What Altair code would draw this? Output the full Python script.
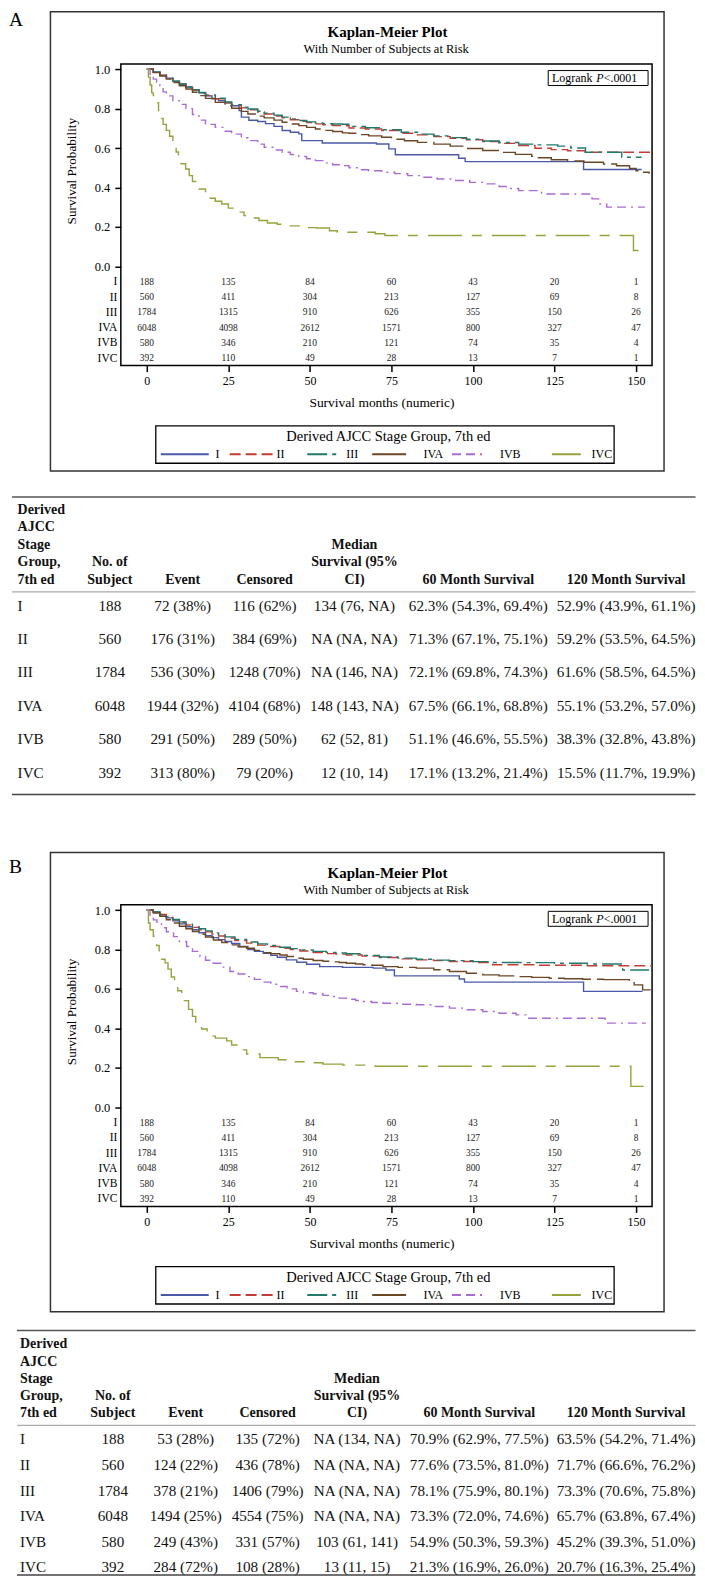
import altair as alt
import pandas as pd

FONT = "Liberation Serif"

# ---------------- data ----------------
stages = ["I", "II", "III", "IVA", "IVB", "IVC"]
risk_months = [0, 25, 50, 75, 100, 125, 150]
risk_I = [188, 135, 84, 60, 43, 20, 1]
risk_II = [560, 411, 304, 213, 127, 69, 8]
risk_III = [1784, 1315, 910, 626, 355, 150, 26]
risk_IVA = [6048, 4098, 2612, 1571, 800, 327, 47]
risk_IVB = [580, 346, 210, 121, 74, 35, 4]
risk_IVC = [392, 110, 49, 28, 13, 7, 1]
risk_all = [risk_I, risk_II, risk_III, risk_IVA, risk_IVB, risk_IVC]

# Panel A survival curves (month, survival)
kmA_I = [(0, 1.0), (2, 0.985), (4, 0.97), (6, 0.955), (8, 0.94), (10, 0.925), (12, 0.91), (14, 0.895),
         (16, 0.88), (18, 0.865), (20, 0.85), (22, 0.84), (24, 0.83), (26, 0.815), (28.3, 0.79), (29, 0.757),
         (31.3, 0.741), (34, 0.735), (36.4, 0.724), (39, 0.71), (41.5, 0.689), (44, 0.68), (46.6, 0.672),
         (47.5, 0.638), (53.8, 0.626), (70.4, 0.621), (74.2, 0.596), (76.2, 0.566), (95.6, 0.548),
         (97.6, 0.531), (133.9, 0.491), (151.7, 0.491)]
kmA_II = [(0, 1.0), (2, 0.985), (4, 0.968), (6, 0.952), (8, 0.937), (10, 0.922), (12, 0.907), (14, 0.893),
          (16, 0.879), (18, 0.866), (21, 0.85), (24, 0.83), (26, 0.816), (29, 0.804), (31, 0.794), (34, 0.783),
          (36, 0.773), (39, 0.763), (41.5, 0.753), (44, 0.744), (46.6, 0.736), (49, 0.729), (51.7, 0.723),
          (54, 0.718), (57, 0.714), (60, 0.713), (62, 0.702), (67, 0.697), (72, 0.689), (78, 0.675),
          (83, 0.667), (88, 0.658), (93, 0.65), (98, 0.642), (103, 0.633), (108, 0.624), (114, 0.613),
          (119, 0.599), (124, 0.592), (129, 0.586), (134.4, 0.579), (155, 0.579)]
kmA_III = [(0, 1.0), (2, 0.986), (4, 0.97), (6, 0.955), (8, 0.94), (10, 0.925), (12, 0.91), (14, 0.896),
           (16, 0.882), (18, 0.869), (21, 0.853), (24, 0.834), (26, 0.82), (29, 0.808), (31, 0.798), (34, 0.787),
           (36, 0.777), (39, 0.767), (41.5, 0.757), (44, 0.748), (46.6, 0.74), (49, 0.733), (51.7, 0.727),
           (54, 0.724), (57, 0.722), (60, 0.721), (63, 0.71), (67, 0.703), (72, 0.693), (78, 0.68), (83, 0.671),
           (88, 0.662), (93, 0.653), (98, 0.645), (103, 0.636), (108, 0.628), (114, 0.62), (120, 0.616),
           (126, 0.61), (130, 0.6), (134.5, 0.579), (145.6, 0.553), (151.7, 0.553)]
kmA_IVA = [(0, 1.0), (2, 0.983), (4, 0.966), (6, 0.95), (8, 0.933), (10, 0.916), (12, 0.9), (14, 0.883),
           (16, 0.866), (18, 0.852), (21, 0.832), (24, 0.815), (26, 0.802), (29, 0.786), (31, 0.773), (34, 0.762),
           (36, 0.753), (39, 0.742), (41.5, 0.731), (44, 0.722), (46.6, 0.714), (49, 0.705), (51.7, 0.697),
           (54, 0.69), (57, 0.684), (60, 0.677), (62, 0.675), (65, 0.668), (68, 0.662), (72, 0.655), (75, 0.645),
           (79, 0.637), (83, 0.629), (88, 0.62), (93, 0.61), (98, 0.598), (103, 0.588), (108, 0.578),
           (113, 0.568), (118, 0.558), (120, 0.551), (124, 0.541), (129, 0.534), (134, 0.528), (140, 0.519),
           (144, 0.51), (148, 0.497), (150, 0.485), (152, 0.477), (154, 0.47)]
kmA_IVB = [(0, 1.0), (1, 0.97), (2, 0.95), (3, 0.935), (4, 0.91), (5, 0.885), (6, 0.865), (8, 0.84),
           (10, 0.822), (12, 0.8), (14, 0.77), (16, 0.742), (18, 0.72), (21, 0.705), (24, 0.685), (26, 0.671),
           (29, 0.652), (31, 0.638), (34, 0.62), (36, 0.604), (39, 0.59), (41.5, 0.579), (44, 0.567),
           (46.6, 0.557), (49, 0.546), (51.7, 0.536), (54, 0.525), (57, 0.515), (60, 0.511), (62, 0.5),
           (65, 0.49), (68, 0.485), (72, 0.477), (76, 0.47), (80, 0.46), (84, 0.452), (89, 0.443), (94, 0.435),
           (99, 0.426), (104, 0.418), (108, 0.405), (111, 0.395), (114, 0.384), (121, 0.367), (136.5, 0.342),
           (138.5, 0.316), (141, 0.3), (152.7, 0.3)]
kmA_IVC = [(0, 1.0), (0.5, 0.96), (1, 0.92), (1.5, 0.88), (2, 0.866), (3, 0.83), (3.6, 0.79), (4.5, 0.75),
           (5, 0.72), (6, 0.69), (7, 0.66), (8, 0.63), (9, 0.58), (9.7, 0.545), (10.5, 0.52), (11.9, 0.494),
           (13, 0.46), (14, 0.43), (15, 0.41), (16, 0.392), (18, 0.36), (19.5, 0.345), (21, 0.33), (23, 0.316),
           (25, 0.295), (27, 0.275), (29.8, 0.257), (32, 0.245), (34.4, 0.232), (37, 0.22), (40, 0.213),
           (44, 0.205), (47.6, 0.196), (52, 0.194), (56, 0.18), (58.4, 0.173), (70, 0.165), (73, 0.156),
           (149.2, 0.08), (152.6, 0.08)]

# Panel B survival curves
kmB_I = [(0, 1.0), (2, 0.99), (4, 0.975), (6, 0.96), (8, 0.945), (10, 0.93), (12, 0.915), (14, 0.9),
         (16, 0.885), (18, 0.87), (20, 0.86), (22, 0.85), (24, 0.84), (26, 0.83), (28.5, 0.815), (31, 0.8),
         (33, 0.79), (35.7, 0.781), (38, 0.77), (40, 0.76), (42.8, 0.747), (46, 0.735), (49, 0.725),
         (53, 0.713), (60, 0.709), (69.4, 0.705), (73.3, 0.696), (75.9, 0.666), (95.8, 0.65), (97.4, 0.634),
         (133.9, 0.587), (152, 0.587)]
kmB_II = [(0, 1.0), (2, 0.99), (4, 0.977), (6, 0.963), (8, 0.95), (10, 0.937), (12, 0.924), (14, 0.912),
          (16, 0.9), (18, 0.889), (20, 0.878), (22, 0.868), (24, 0.858), (27, 0.845), (30.6, 0.832), (34, 0.822),
          (37, 0.815), (40.8, 0.806), (44, 0.799), (47, 0.792), (51, 0.784), (55, 0.779), (58, 0.776),
          (61.2, 0.772), (66, 0.766), (71.3, 0.759), (77, 0.752), (82.6, 0.747), (88, 0.743), (92.8, 0.739),
          (100, 0.734), (106, 0.722), (120, 0.72), (135, 0.717), (155, 0.717)]
kmB_III = [(0, 1.0), (2, 0.99), (4, 0.978), (6, 0.965), (8, 0.952), (10, 0.94), (12, 0.928), (14, 0.916),
           (16, 0.905), (18, 0.894), (20, 0.884), (22, 0.874), (24, 0.864), (27, 0.851), (30.6, 0.838),
           (34, 0.828), (37, 0.82), (40.8, 0.811), (44, 0.804), (47, 0.797), (51, 0.79), (55, 0.785),
           (58, 0.782), (61.2, 0.778), (66, 0.77), (71.3, 0.762), (77, 0.756), (82.6, 0.75), (88, 0.746),
           (92.8, 0.743), (100, 0.738), (106, 0.734), (115, 0.733), (125, 0.73), (135, 0.726), (145.9, 0.696),
           (154, 0.696)]
kmB_IVA = [(0, 1.0), (2, 0.985), (4, 0.968), (6, 0.951), (8, 0.934), (10, 0.918), (12, 0.905), (14, 0.891),
           (16, 0.877), (18, 0.863), (20.4, 0.848), (23, 0.835), (25.5, 0.823), (28, 0.814), (30.6, 0.806),
           (33, 0.795), (35.7, 0.784), (38, 0.778), (40.8, 0.772), (43, 0.764), (45.9, 0.755), (48, 0.75),
           (51, 0.744), (54, 0.74), (56.1, 0.737), (59, 0.734), (61.2, 0.73), (64, 0.726), (66.3, 0.722),
           (69, 0.72), (72.4, 0.713), (77, 0.709), (82.6, 0.705), (88, 0.697), (92.8, 0.688), (98, 0.679),
           (103, 0.671), (108, 0.666), (113.2, 0.662), (118, 0.658), (123.4, 0.654), (128, 0.651),
           (133.6, 0.649), (140, 0.647), (147.9, 0.645), (149.4, 0.62), (152, 0.595), (154.5, 0.595)]
kmB_IVB = [(0, 1.0), (1, 0.975), (2, 0.95), (3.1, 0.933), (4.5, 0.91), (6, 0.89), (8.2, 0.865), (10, 0.84),
           (12.2, 0.815), (14, 0.79), (16.3, 0.764), (18, 0.745), (20.4, 0.73), (23, 0.71), (25.5, 0.688),
           (28, 0.675), (30.6, 0.662), (33, 0.648), (35.7, 0.634), (38, 0.623), (40.8, 0.612), (43, 0.6),
           (45.9, 0.587), (48, 0.58), (51, 0.575), (54, 0.567), (56.1, 0.561), (59, 0.553), (61.2, 0.547),
           (64, 0.541), (66.3, 0.536), (69, 0.531), (72.4, 0.527), (78, 0.522), (82.6, 0.519), (88, 0.51),
           (92.8, 0.502), (98, 0.494), (103, 0.485), (108, 0.476), (113.2, 0.468), (116.2, 0.451),
           (140.5, 0.426), (153, 0.426)]
kmB_IVC = [(0, 1.0), (0.5, 0.934), (1, 0.9), (2, 0.867), (3, 0.82), (3.8, 0.78), (4.5, 0.75), (5.6, 0.732),
           (6.5, 0.7), (7.5, 0.66), (8.5, 0.621), (9.5, 0.59), (10.7, 0.556), (11.5, 0.54), (12.8, 0.496),
           (14, 0.46), (15, 0.43), (16.8, 0.396), (18.5, 0.375), (19.9, 0.36), (21, 0.35), (24.5, 0.336),
           (26, 0.315), (28, 0.29), (30.6, 0.269), (34.7, 0.251), (40.3, 0.24), (45, 0.23), (49.5, 0.225),
           (54, 0.218), (60.1, 0.213), (70, 0.207), (148.4, 0.105), (152.5, 0.105)]

# Summary tables
headers = [["Derived", "AJCC", "Stage", "Group,", "7th ed"], ["No. of", "Subject"], ["Event"], ["Censored"],
           ["Median", "Survival (95%", "CI)"], ["60 Month Survival"], ["120 Month Survival"]]
n_subjects = [188, 560, 1784, 6048, 580, 392]
A_event = ["72 (38%)", "176 (31%)", "536 (30%)", "1944 (32%)", "291 (50%)", "313 (80%)"]
A_censored = ["116 (62%)", "384 (69%)", "1248 (70%)", "4104 (68%)", "289 (50%)", "79 (20%)"]
A_median = ["134 (76, NA)", "NA (NA, NA)", "NA (146, NA)", "148 (143, NA)", "62 (52, 81)", "12 (10, 14)"]
A_m60 = ["62.3% (54.3%, 69.4%)", "71.3% (67.1%, 75.1%)", "72.1% (69.8%, 74.3%)",
         "67.5% (66.1%, 68.8%)", "51.1% (46.6%, 55.5%)", "17.1% (13.2%, 21.4%)"]
A_m120 = ["52.9% (43.9%, 61.1%)", "59.2% (53.5%, 64.5%)", "61.6% (58.5%, 64.5%)",
          "55.1% (53.2%, 57.0%)", "38.3% (32.8%, 43.8%)", "15.5% (11.7%, 19.9%)"]
B_event = ["53 (28%)", "124 (22%)", "378 (21%)", "1494 (25%)", "249 (43%)", "284 (72%)"]
B_censored = ["135 (72%)", "436 (78%)", "1406 (79%)", "4554 (75%)", "331 (57%)", "108 (28%)"]
B_median = ["NA (134, NA)", "NA (NA, NA)", "NA (NA, NA)", "NA (NA, NA)", "103 (61, 141)", "13 (11, 15)"]
B_m60 = ["70.9% (62.9%, 77.5%)", "77.6% (73.5%, 81.0%)", "78.1% (75.9%, 80.1%)",
         "73.3% (72.0%, 74.6%)", "54.9% (50.3%, 59.3%)", "21.3% (16.9%, 26.0%)"]
B_m120 = ["63.5% (54.2%, 71.4%)", "71.7% (66.6%, 76.2%)", "73.3% (70.6%, 75.8%)",
          "65.7% (63.8%, 67.4%)", "45.2% (39.3%, 51.0%)", "20.7% (16.3%, 25.4%)"]

# ---------------- styles ----------------
colors = ["#4a58a8", "#c63c34", "#1f7a6b", "#6b4726", "#a96cd2", "#96a23c"]
dashes = [[1, 0], [11, 5], [20, 5, 4, 5], [34, 6], [9, 5, 9, 5, 2, 5], [34, 10, 10, 10]]

color_scale = alt.Scale(domain=stages, range=colors)
dash_scale = alt.Scale(domain=stages, range=dashes)
x_scale = alt.Scale(domain=[-7.96, 154.9], nice=False, zero=False)
y_scale = alt.Scale(domain=[-0.5043, 1.0264], nice=False, zero=False)

PW, PH = 532, 302
RULE_END = 575.5
one = pd.DataFrame({"k": [0]})
stage_df = pd.DataFrame({"stage": stages})


def txt(x, y, s, size, **kw):
    return alt.Chart(one).mark_text(font=FONT, fontSize=size, color="black", **kw).encode(
        x=alt.value(x), y=alt.value(y), text=alt.value(s))


def box(x1, x2, y1, y2, color, width):
    return alt.Chart(one).mark_rect(fillOpacity=0, stroke=color, strokeWidth=width).encode(
        x=alt.value(x1), x2=alt.value(x2), y=alt.value(y1), y2=alt.value(y2))


def panel(letter, letter_y, curves):
    curve_df = pd.DataFrame([{"stage": s, "month": t, "surv": v}
                             for s, pts in zip(stages, curves) for t, v in pts])
    risk_df = pd.DataFrame([{"stage": s, "month": m, "count": c}
                            for s, counts in zip(stages, risk_all) for m, c in zip(risk_months, counts)])

    x_axis = alt.Axis(values=risk_months, title="Survival months (numeric)", domain=False, grid=False,
                      tickSize=6, tickWidth=1.5, tickColor="black", labelFont=FONT, labelFontSize=12,
                      labelPadding=4, labelColor="black", titleFont=FONT, titleFontSize=13.5,
                      titleFontWeight="normal", titlePadding=9, titleColor="black", titleX=261)
    y_axis = alt.Axis(values=[0, 0.2, 0.4, 0.6, 0.8, 1.0], format=".1f", title="Survival Probability",
                      domain=False, grid=False, tickSize=6, tickWidth=1.5, tickColor="black",
                      labelFont=FONT, labelFontSize=12.5, labelPadding=5, labelColor="black",
                      titleFont=FONT, titleFontSize=13.2, titleFontWeight="normal", titleColor="black",
                      titleX=-49, titleY=106.75, titleBaseline="middle", titleAlign="center", orient="left")

    curves_layer = alt.Chart(curve_df).mark_line(interpolate="step-after", strokeWidth=1.4, clip=True).encode(
        x=alt.X("month:Q", scale=x_scale, axis=x_axis),
        y=alt.Y("surv:Q", scale=y_scale, axis=y_axis),
        color=alt.Color("stage:N", scale=color_scale, legend=None),
        strokeDash=alt.StrokeDash("stage:N", scale=dash_scale, legend=None),
    )

    risk_layer = alt.Chart(risk_df).mark_text(font=FONT, fontSize=9.5, color="#222", baseline="middle").encode(
        x=alt.X("month:Q", scale=x_scale, axis=x_axis),
        y=alt.Y("stage:N", scale=alt.Scale(type="point", domain=stages, range=[218, 294.5], padding=0),
                axis=alt.Axis(orient="left", title=None, ticks=False, tickSize=0, domain=False, grid=False,
                              labelFont=FONT, labelFontSize=11.5, labelPadding=4, labelColor="black")),
        text="count:Q",
    )

    layers = [
        box(-70.5, 544, -52.5, 407.5, "#333", 1.5),
        txt(-112, letter_y, letter, 19.5, align="left", baseline="top"),
        txt(267, -32.25, "Kaplan-Meier Plot", 15, align="center", baseline="middle", fontWeight="bold"),
        txt(265.7, -15.25, "With Number of Subjects at Risk", 12.5, align="center", baseline="middle"),
        curves_layer,
        risk_layer,
        box(428, 528, 6.5, 21.5, "black", 1),
        txt(431.7, 14.25, "Logrank", 12, align="left", baseline="middle"),
        txt(476, 14.25, "P", 12, align="left", baseline="middle", fontStyle="italic"),
        txt(483.5, 14.25, "<.0001", 12, align="left", baseline="middle"),
        box(35, 494, 362.25, 399.75, "black", 1.3),
        txt(268, 373.75, "Derived AJCC Stage Group, 7th ed", 14.5, align="center", baseline="middle"),
    ]

    leg_y = 390.75
    sym_x1 = [40, 109, 186.7, 251.7, 331.7, 431.7]
    sym_x2 = [88, 152, 215.7, 290, 363.7, 460.7]
    lab_x = [96.7, 160, 231.7, 313, 390, 481.7]
    for i, s in enumerate(stages):
        sub = alt.Chart(stage_df).transform_filter(alt.datum.stage == s)
        layers.append(sub.mark_rule(strokeWidth=2).encode(
            x=alt.value(sym_x1[i]), x2=alt.value(sym_x2[i]), y=alt.value(leg_y),
            color=alt.Color("stage:N", scale=color_scale, legend=None),
            strokeDash=alt.StrokeDash("stage:N", scale=dash_scale, legend=None)))
        layers.append(sub.mark_text(font=FONT, fontSize=12, color="black", align="center",
                                    baseline="middle").encode(
            x=alt.value(lab_x[i]), y=alt.value(leg_y), text="stage:N"))

    return alt.layer(*layers).resolve_scale(y="independent").properties(
        width=PW, height=PH, view=alt.ViewBackground(stroke="black", strokeWidth=1.5))


def table(cols, col_x, left_x, rule_x1, top_rule, head_last, line_h, head_rule, rows, bottom_rule, height):
    df = pd.DataFrame({"stage": stages, "n": n_subjects, "event": cols[0], "censored": cols[1],
                       "median": cols[2], "m60": cols[3], "m120": cols[4]})
    yscale = alt.Scale(type="point", domain=stages, range=rows, padding=0)
    layers = []
    for yy, c, w in [(top_rule, "#555", 1.5), (head_rule, "#aaa", 1.2), (bottom_rule, "#444", 1.5)]:
        layers.append(alt.Chart(one).mark_rule(color=c, strokeWidth=w).encode(
            x=alt.value(rule_x1), x2=alt.value(RULE_END), y=alt.value(yy)))
    hx = [left_x] + col_x
    for i, lines in enumerate(headers):
        n = len(lines)
        for j, line in enumerate(lines):
            layers.append(alt.Chart(one).mark_text(
                font=FONT, fontSize=14, fontWeight="bold", color="#111",
                align="left" if i == 0 else "center", baseline="middle").encode(
                x=alt.value(hx[i]), y=alt.value(head_last - (n - 1 - j) * line_h), text=alt.value(line)))
    fields = ["stage:N", "n:Q", "event:N", "censored:N", "median:N", "m60:N", "m120:N"]
    for i, f in enumerate(fields):
        layers.append(alt.Chart(df).mark_text(
            font=FONT, fontSize=15.2, color="#111", align="left" if i == 0 else "center",
            baseline="middle").encode(
            x=alt.value(hx[i]), y=alt.Y("stage:N", scale=yscale, axis=None), text=f))
    return alt.layer(*layers).properties(width=560, height=height)


panelA = panel("A", -53, [kmA_I, kmA_II, kmA_III, kmA_IVA, kmA_IVB, kmA_IVC])
panelB = panel("B", -47, [kmB_I, kmB_II, kmB_III, kmB_IVA, kmB_IVB, kmB_IVC])

tableA = table([A_event, A_censored, A_median, A_m60, A_m120],
               [-11, 62, 144, 234, 358, 506], -103.4, -109,
               23.5, 106.5, 17.5, 118.5, [132.5, 299.5], 321.5, 376.75)
tableB = table([B_event, B_censored, B_median, B_m60, B_m120],
               [-8, 65, 147, 236.5, 359, 506], -101, -104,
               16.25, 99.25, 17.25, 111.25, [125.25, 253.5], 261.25, 262)

chart = alt.vconcat(panelA, tableA, panelB, tableB, spacing=0).properties(padding=0).configure(
    font=FONT).configure_view(stroke="transparent")

chart.save("out.html", embed_options={"renderer": "svg", "actions": False})
